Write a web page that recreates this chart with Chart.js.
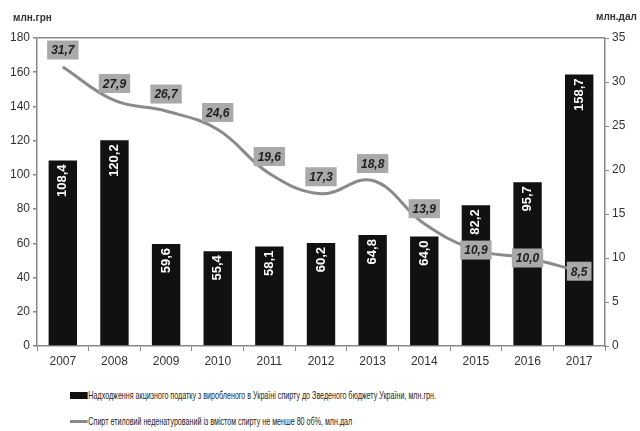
<!DOCTYPE html>
<html>
<head>
<meta charset="utf-8">
<script src="https://cdn.jsdelivr.net/npm/chart.js@4/dist/chart.umd.min.js"></script>
<style>
  body { margin: 0; background: #fff; font-family: "Liberation Sans Narrow", "Liberation Sans", Arial, sans-serif; }
  #wrap { position: relative; width: 640px; height: 431px; }
  #c { position: absolute; left: 0; top: 0; }
  .unit { position: absolute; font-size: 10px; font-weight: bold; color: #333; }
  .leg { position: absolute; left: 70px; font-size: 10.5px; color: #222; display: flex; align-items: center; white-space: nowrap;
         transform: scaleX(0.68); transform-origin: left center; }
  .sw-bar { width: 26px; height: 7px; background: #111; margin-right: 1px; }
  .sw-line { width: 26px; height: 3px; background: #8a8a8a; margin-right: 1px; }
</style>
</head>
<body>
<div id="wrap">
  <canvas id="c" width="640" height="380"></canvas>
  <div class="unit" style="left:13px;top:12px;">млн.грн</div>
  <div class="unit" style="left:596px;top:11px;">млн.дал</div>
  <div class="leg" style="top:389px;"><span class="sw-bar"></span>Надходження акцизного податку з виробленого в Україні спирту до Зведеного бюджету України, млн.грн.</div>
  <div class="leg" style="top:415px;"><span class="sw-line"></span>Спирт етиловий неденатурований із вмістом спирту не менше 80 об%, млн.дал</div>
</div>
<script>
/* податок (стовпці) та спирт (лінія) */
const years = ["2007", "2008", "2009", "2010", "2011", "2012", "2013", "2014", "2015", "2016", "2017"];
const podatok = [108.4, 120.2, 59.6, 55.4, 58.1, 60.2, 64.8, 64.0, 82.2, 95.7, 158.7];
const spyrt = [31.7, 27.9, 26.7, 24.6, 19.6, 17.3, 18.8, 13.9, 10.9, 10.0, 8.5];
const leftTicks = [0, 20, 40, 60, 80, 100, 120, 140, 160, 180];
const rightTicks = [0, 5, 10, 15, 20, 25, 30, 35];
// зсув підпису лінії вгору (px); останні три — по центру точки
const lineLabelLift = [17, 17, 17, 17, 17, 17, 17, 15, 0, 0, 0];

const fmt = (v) => v.toFixed(1).replace(".", ",");
const FONT = "'Liberation Sans Narrow', 'Liberation Sans', Arial, sans-serif";

const labelsPlugin = {
  id: "labels",
  afterDatasetsDraw(chart) {
    const ctx = chart.ctx;
    // вертикальні підписи у стовпцях
    chart.getDatasetMeta(1).data.forEach((bar, i) => {
      ctx.save();
      ctx.translate(bar.x, bar.y + 4);
      ctx.rotate(-Math.PI / 2);
      ctx.font = "bold 13px " + FONT;
      ctx.fillStyle = "#fff";
      ctx.textAlign = "right";
      ctx.textBaseline = "middle";
      ctx.fillText(fmt(podatok[i]), 0, 0);
      ctx.restore();
    });
    // підписи лінії у сірих прямокутниках
    chart.getDatasetMeta(0).data.forEach((pt, i) => {
      const txt = fmt(spyrt[i]);
      ctx.save();
      ctx.font = "italic bold 12px " + FONT;
      const w = ctx.measureText(txt).width + 8;
      const h = 19;
      const cy = pt.y - lineLabelLift[i];
      ctx.fillStyle = "#a9a9a9";
      ctx.fillRect(pt.x - w / 2, cy - h / 2, w, h);
      ctx.fillStyle = "#1e1e1e";
      ctx.textAlign = "center";
      ctx.textBaseline = "middle";
      ctx.fillText(txt, pt.x, cy + 1);
      ctx.restore();
    });
  },
};

new Chart(document.getElementById("c"), {
  data: {
    labels: years,
    datasets: [
      {
        type: "line",
        data: spyrt,
        yAxisID: "y2",
        borderColor: "#8a8a8a",
        borderWidth: 3,
        tension: 0.4,
        pointRadius: 0,
        order: 0,
      },
      {
        type: "bar",
        data: podatok,
        yAxisID: "y",
        backgroundColor: "#111",
        barPercentage: 0.55,
        categoryPercentage: 1,
        order: 1,
      },
    ],
  },
  options: {
    responsive: false,
    animation: false,
    layout: { padding: { top: 38, left: 0, right: 0, bottom: 0 } },
    plugins: { legend: { display: false }, tooltip: { enabled: false } },
    scales: {
      x: {
        grid: { drawOnChartArea: false, offset: true, tickLength: 5, color: "#888" },
        border: { color: "#888", width: 1.5 },
        ticks: { color: "#333", font: { family: FONT, size: 12 }, padding: 3 },
        afterFit: (s) => { s.height = 34; },
      },
      y: {
        position: "left",
        min: 0,
        max: 180,
        afterBuildTicks: (s) => { s.ticks = leftTicks.map((v) => ({ value: v })); },
        grid: {
          color: (c) => (c.tick && c.tick.value === 180 ? "#888" : "rgba(0,0,0,0)"),
          tickColor: "#888",
          tickLength: 4,
          lineWidth: 1.5,
        },
        border: { color: "#888", width: 1.5 },
        ticks: { color: "#333", font: { family: FONT, size: 12 }, padding: 3 },
        afterFit: (s) => { s.width = 37; },
      },
      y2: {
        position: "right",
        min: 0,
        max: 35,
        afterBuildTicks: (s) => { s.ticks = rightTicks.map((v) => ({ value: v })); },
        grid: { drawOnChartArea: false, tickColor: "#888", tickLength: 4 },
        border: { color: "#888", width: 1.5 },
        ticks: { color: "#333", font: { family: FONT, size: 12 }, padding: 3 },
        afterFit: (s) => { s.width = 35; },
      },
    },
  },
  plugins: [labelsPlugin],
});
</script>
</body>
</html>
